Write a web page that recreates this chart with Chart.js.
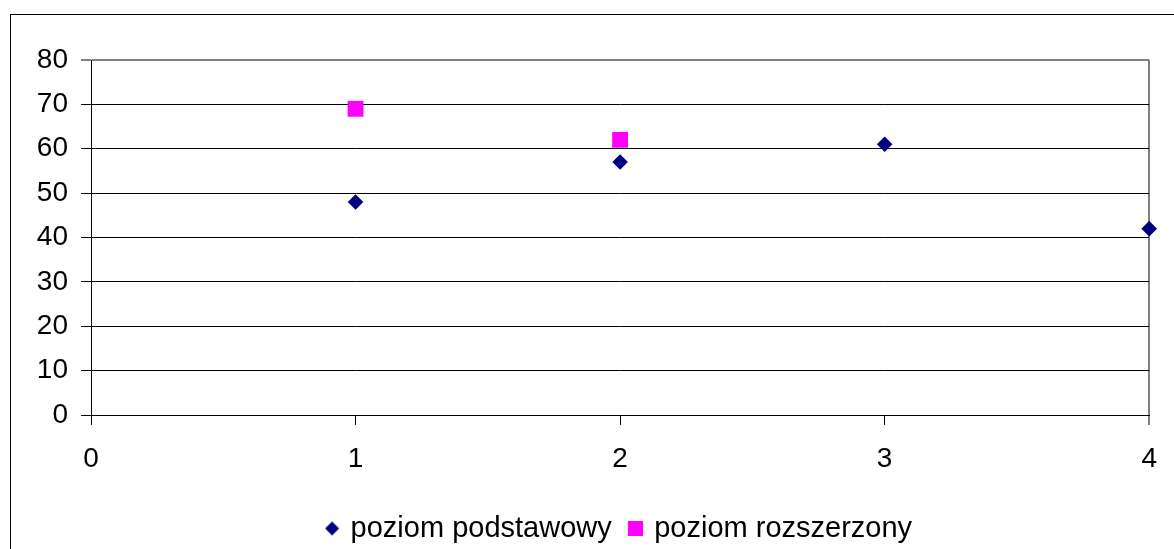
<!DOCTYPE html>
<html>
<head>
<meta charset="utf-8">
<script src="https://cdn.jsdelivr.net/npm/chart.js@4.4.0/dist/chart.umd.min.js"></script>
<style>
  html, body { margin: 0; padding: 0; background: #ffffff; overflow: hidden; }
  #wrap { position: absolute; left: 0; top: 0; width: 1174px; height: 549px; overflow: hidden; }
</style>
</head>
<body>
<div id="wrap"><canvas id="c" width="1174" height="553"></canvas></div>
<script>
// ---- data ----
const seriesNames = ['poziom podstawowy', 'poziom rozszerzony'];
const podstawowyX = [1, 2, 3, 4];
const podstawowyY = [48, 57, 61, 42];
const rozszerzonyX = [1, 2];
const rozszerzonyY = [69, 62];
const xTickValues = [0, 1, 2, 3, 4];
const yTickValues = [0, 10, 20, 30, 40, 50, 60, 70, 80];

const NAVY = '#000080';
const MAGENTA = '#FF00FF';
const FONT = 'Arial, "Liberation Sans", sans-serif';

function toPoints(xs, ys) { return xs.map((x, i) => ({ x: x, y: ys[i] })); }

// legend glyphs
function diamondGlyph(color, half) {
  const c = document.createElement('canvas');
  const s = Math.ceil(half * 2) + 2;
  c.width = s; c.height = s;
  const g = c.getContext('2d');
  const m = s / 2;
  g.fillStyle = color;
  g.beginPath();
  g.moveTo(m, m - half); g.lineTo(m + half, m); g.lineTo(m, m + half); g.lineTo(m - half, m);
  g.closePath(); g.fill();
  return c;
}
function squareGlyph(color, side) {
  const c = document.createElement('canvas');
  c.width = side; c.height = side;
  const g = c.getContext('2d');
  g.fillStyle = color;
  g.fillRect(0, 0, side, side);
  return c;
}
const legendGlyphs = [diamondGlyph(NAVY, 7), squareGlyph(MAGENTA, 15)];

const outerBorder = {
  id: 'outerBorder',
  beforeDraw(chart) {
    const ctx = chart.ctx;
    ctx.save();
    ctx.fillStyle = '#ffffff';
    ctx.fillRect(0, 0, chart.width, chart.height);
    ctx.strokeStyle = '#000000';
    ctx.lineWidth = 1;
    ctx.strokeRect(10.5, 14.5, 2000, 2000);
    ctx.restore();
  }
};

new Chart(document.getElementById('c'), {
  type: 'scatter',
  data: {
    datasets: [
      {
        label: seriesNames[0],
        data: toPoints(podstawowyX, podstawowyY),
        pointStyle: 'rectRot',
        pointRadius: 7.8,
        pointHoverRadius: 7.8,
        backgroundColor: NAVY,
        borderColor: NAVY,
        borderWidth: 0,
        clip: false
      },
      {
        label: seriesNames[1],
        data: toPoints(rozszerzonyX, rozszerzonyY),
        pointStyle: 'rect',
        pointRadius: 11.2,
        pointHoverRadius: 11.2,
        backgroundColor: MAGENTA,
        borderColor: MAGENTA,
        borderWidth: 0,
        clip: false
      }
    ]
  },
  options: {
    responsive: false,
    animation: false,
    devicePixelRatio: 1,
    layout: { padding: { left: 0, top: 60, right: 22, bottom: 0 } },
    scales: {
      x: {
        type: 'linear',
        min: 0, max: 4,
        afterBuildTicks(scale) { scale.ticks = xTickValues.map(v => ({ value: v })); },
        afterFit(scale) { scale.height = 79; },
        border: { display: true, color: '#000000', width: 1 },
        grid: {
          drawOnChartArea: true,
          color: (ctx) => (ctx.tick && ctx.tick.value === 4) ? '#808080' : 'rgba(0,0,0,0)',
          lineWidth: (ctx) => (ctx.tick && ctx.tick.value === 4) ? 2 : 1,
          tickColor: '#000000',
          tickLength: 10,
          tickWidth: 1
        },
        ticks: {
          color: '#000000',
          font: { family: FONT, size: 28 },
          padding: 17,
          maxRotation: 0,
          autoSkip: false
        }
      },
      y: {
        type: 'linear',
        min: 0, max: 80,
        afterBuildTicks(scale) { scale.ticks = yTickValues.map(v => ({ value: v })); },
        afterFit(scale) { scale.width = 91; },
        border: { display: true, color: '#000000', width: 1 },
        grid: {
          color: (ctx) => (ctx.tick && ctx.tick.value === 80) ? '#808080' : '#000000',
          lineWidth: (ctx) => (ctx.tick && ctx.tick.value === 80) ? 2 : 1,
          tickColor: '#000000',
          tickLength: 10,
          tickWidth: 1
        },
        ticks: {
          color: '#000000',
          font: { family: FONT, size: 28 },
          padding: 13,
          autoSkip: false
        }
      }
    },
    plugins: {
      tooltip: { enabled: false },
      title: { display: false },
      legend: {
        display: true,
        position: 'bottom',
        fullSize: false,
        labels: {
          usePointStyle: true,
          pointStyleWidth: 8,
          boxHeight: 15,
          padding: 20,
          color: '#000000',
          font: { family: FONT, size: 29 },
          generateLabels(chart) {
            const items = Chart.defaults.plugins.legend.labels.generateLabels(chart);
            items.forEach((it, i) => { it.pointStyle = legendGlyphs[i]; it.rotation = 0; });
            return items;
          }
        }
      }
    }
  },
  plugins: [outerBorder]
});
</script>
</body>
</html>
